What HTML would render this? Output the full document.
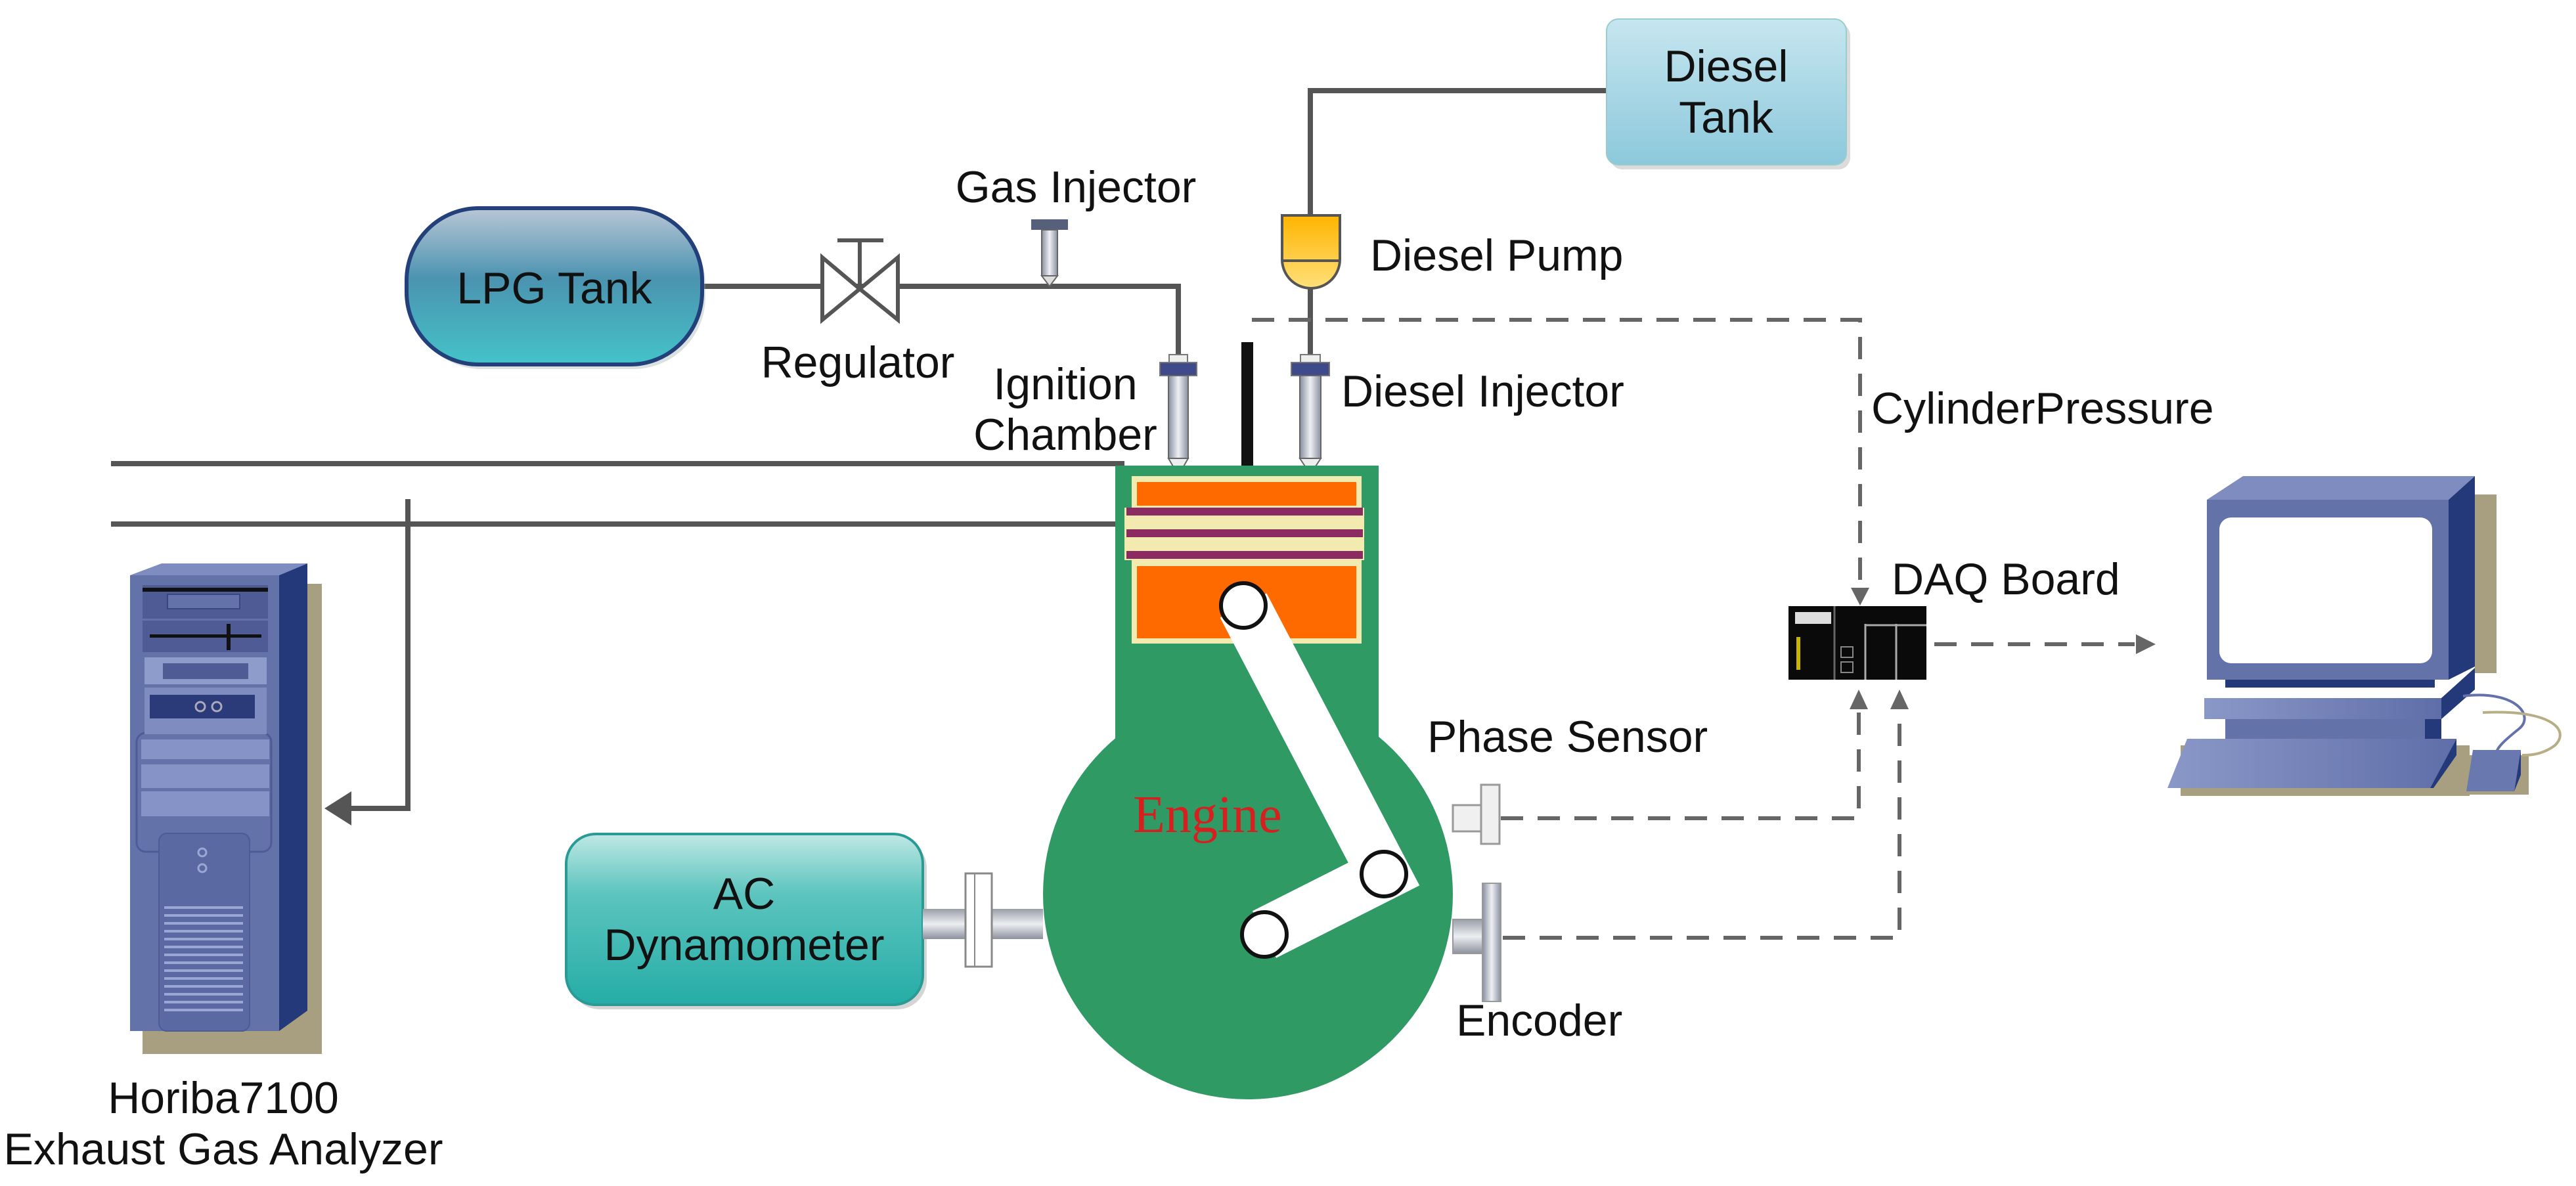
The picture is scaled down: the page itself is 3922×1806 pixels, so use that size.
<!DOCTYPE html>
<html><head><meta charset="utf-8"><style>
html,body{margin:0;padding:0;background:#fff}
svg{display:block}
text{font-family:"Liberation Sans",Arial,sans-serif;fill:#111}
</style></head><body>
<svg width="3922" height="1806" viewBox="0 0 3922 1806" xmlns="http://www.w3.org/2000/svg">
<defs>
<linearGradient id="lpg" x1="0" y1="0" x2="0" y2="1"><stop offset="0" stop-color="#b9c6d6"/><stop offset="0.45" stop-color="#4b93b0"/><stop offset="1" stop-color="#44c3c9"/></linearGradient>
<linearGradient id="dyn" x1="0" y1="0" x2="0" y2="1"><stop offset="0" stop-color="#bfe8e4"/><stop offset="0.35" stop-color="#5cc4be"/><stop offset="1" stop-color="#25aca6"/></linearGradient>
<linearGradient id="dt" x1="0" y1="0" x2="0" y2="1"><stop offset="0" stop-color="#c6e6ef"/><stop offset="1" stop-color="#8cc8dc"/></linearGradient>
<linearGradient id="inj" x1="0" y1="0" x2="1" y2="0"><stop offset="0" stop-color="#888ea0"/><stop offset="0.5" stop-color="#eef0f4"/><stop offset="1" stop-color="#8a90a2"/></linearGradient>
<linearGradient id="shaft" x1="0" y1="0" x2="0" y2="1"><stop offset="0" stop-color="#9a9ea8"/><stop offset="0.5" stop-color="#eceef2"/><stop offset="1" stop-color="#8d919c"/></linearGradient>
<linearGradient id="pump" x1="0" y1="0" x2="0" y2="1"><stop offset="0" stop-color="#ffb400"/><stop offset="1" stop-color="#ffe07a"/></linearGradient>
<linearGradient id="blu" x1="0" y1="0" x2="1" y2="0"><stop offset="0" stop-color="#8a98c8"/><stop offset="1" stop-color="#5f6ea8"/></linearGradient>
</defs>

<!-- pipes -->
<g stroke="#555" stroke-width="8" fill="none">
<polyline points="1069,436 1794,436 1794,545"/>
<polyline points="2446,138 1995,138 1995,330"/>
<line x1="1995" y1="437" x2="1995" y2="545"/>
<line x1="169" y1="706" x2="1712" y2="706"/>
<line x1="169" y1="798" x2="1712" y2="798"/>
<polyline points="621,760 621,1231 530,1231"/>
</g>
<polygon points="494,1231 535,1205 535,1257" fill="#555"/>

<!-- dashed signals -->
<g stroke="#666" stroke-width="6" fill="none" stroke-dasharray="34,22">
<polyline points="1906,487 2832,487 2832,905"/>
<polyline points="2285,1246 2830,1246 2830,1075"/>
<polyline points="2288,1428 2892,1428 2892,1075"/>
<line x1="2945" y1="981" x2="3250" y2="981"/>
</g>
<g fill="#666">
<polygon points="2832,922 2818,895 2846,895"/>
<polygon points="2830,1050 2816,1080 2844,1080"/>
<polygon points="2892,1050 2878,1080 2906,1080"/>
<polygon points="3282,981 3252,966 3252,996"/>
</g>

<!-- LPG tank -->
<rect x="624" y="324" width="450" height="238" rx="110" fill="#9aa" opacity="0.35"/>
<rect x="619" y="317" width="450" height="238" rx="110" fill="url(#lpg)" stroke="#23407a" stroke-width="6"/>
<text x="844" y="462" font-size="68" text-anchor="middle">LPG Tank</text>

<!-- regulator -->
<g stroke="#555" stroke-width="6" fill="#fff">
<polygon points="1252,392 1309,440 1252,487"/>
<polygon points="1367,392 1309,440 1367,487"/>
<line x1="1309" y1="366" x2="1309" y2="440"/>
<line x1="1275" y1="366" x2="1345" y2="366"/>
</g>
<text x="1306" y="575" font-size="68" text-anchor="middle">Regulator</text>

<!-- gas injector -->
<rect x="1570" y="334" width="56" height="16" fill="#56607a"/>
<rect x="1586" y="350" width="24" height="70" fill="url(#inj)" stroke="#666" stroke-width="2"/>
<polygon points="1586,420 1610,420 1598,436" fill="#ddd" stroke="#666" stroke-width="2"/>
<text x="1638" y="308" font-size="68" text-anchor="middle">Gas Injector</text>

<!-- ignition injector -->
<rect x="1780" y="540" width="28" height="14" fill="#eee" stroke="#777" stroke-width="2"/>
<rect x="1766" y="552" width="56" height="20" fill="#3f4a8a" stroke="#777" stroke-width="2"/>
<rect x="1779" y="572" width="30" height="126" fill="url(#inj)" stroke="#666" stroke-width="2"/>
<polygon points="1779,698 1809,698 1794,724" fill="#eee" stroke="#666" stroke-width="2"/>
<text x="1622" y="608" font-size="68" text-anchor="middle">Ignition</text>
<text x="1622" y="685" font-size="68" text-anchor="middle">Chamber</text>

<!-- pressure rod -->
<rect x="1890" y="521" width="18" height="202" fill="#111"/>

<!-- diesel injector -->
<rect x="1980" y="540" width="30" height="14" fill="#eee" stroke="#777" stroke-width="2"/>
<rect x="1966" y="552" width="58" height="20" fill="#3f4a8a" stroke="#777" stroke-width="2"/>
<rect x="1979" y="572" width="32" height="126" fill="url(#inj)" stroke="#666" stroke-width="2"/>
<polygon points="1979,698 2011,698 1995,722" fill="#eee" stroke="#666" stroke-width="2"/>
<text x="2042" y="619" font-size="68">Diesel Injector</text>

<!-- diesel pump -->
<path d="M1952,328 H2040 V395 A44,44 0 0 1 1952,395 Z" fill="url(#pump)" stroke="#555" stroke-width="4"/>
<line x1="1952" y1="397" x2="2040" y2="397" stroke="#555" stroke-width="4"/>
<text x="2086" y="412" font-size="68">Diesel Pump</text>

<!-- diesel tank -->
<rect x="2452" y="36" width="365" height="222" rx="18" fill="#999" opacity="0.35"/>
<rect x="2446" y="29" width="365" height="222" rx="18" fill="url(#dt)" stroke="#9cc" stroke-width="2"/>
<text x="2628" y="124" font-size="68" text-anchor="middle">Diesel</text>
<text x="2628" y="202" font-size="68" text-anchor="middle">Tank</text>

<!-- engine -->
<circle cx="1900" cy="1362" r="312" fill="#2f9a64"/>
<rect x="1698" y="709" width="401" height="480" fill="#2f9a64"/>
<rect x="1723" y="725" width="350" height="255" fill="#f3eab0"/>
<rect x="1731" y="734" width="334" height="36" fill="#ff6a00"/>
<rect x="1712" y="773" width="365" height="80" fill="#f3eab0"/>
<rect x="1715" y="773" width="360" height="12" fill="#8c2a62"/>
<rect x="1715" y="806" width="360" height="12" fill="#8c2a62"/>
<rect x="1715" y="839" width="360" height="12" fill="#8c2a62"/>
<rect x="1731" y="862" width="334" height="110" fill="#ff6a00"/>
<g stroke="#fff" stroke-width="80" stroke-linecap="butt" fill="none">
<polyline points="1893,922 2107,1331 1925,1423" stroke-linejoin="miter"/>
</g>
<g fill="#fff" stroke="#111" stroke-width="6">
<circle cx="1893" cy="922" r="34"/>
<circle cx="2107" cy="1331" r="34"/>
<circle cx="1925" cy="1423" r="34"/>
</g>
<text x="1725" y="1267" font-size="80" style="font-family:'Liberation Serif',serif;fill:#d62020">Engine</text>

<!-- dynamometer -->
<rect x="868" y="1277" width="543" height="260" rx="45" fill="#888" opacity="0.35"/>
<rect x="862" y="1270" width="543" height="260" rx="45" fill="url(#dyn)" stroke="#2a9a95" stroke-width="4"/>
<text x="1133" y="1384" font-size="68" text-anchor="middle">AC</text>
<text x="1133" y="1462" font-size="68" text-anchor="middle">Dynamometer</text>
<rect x="1405" y="1384" width="183" height="46" fill="url(#shaft)"/>
<rect x="1470" y="1330" width="40" height="142" fill="#fff" stroke="#888" stroke-width="3"/>
<line x1="1484" y1="1330" x2="1484" y2="1472" stroke="#888" stroke-width="2"/>

<!-- phase sensor -->
<rect x="2212" y="1226" width="45" height="40" fill="#f0f0f0" stroke="#999" stroke-width="3"/>
<rect x="2255" y="1195" width="28" height="90" fill="#f0f0f0" stroke="#999" stroke-width="3"/>
<text x="2173" y="1145" font-size="68">Phase Sensor</text>

<!-- encoder -->
<rect x="2212" y="1400" width="48" height="52" fill="url(#shaft)" stroke="#999" stroke-width="2"/>
<rect x="2257" y="1345" width="28" height="180" fill="url(#inj)" stroke="#999" stroke-width="2"/>
<text x="2217" y="1577" font-size="68">Encoder</text>

<!-- DAQ -->
<rect x="2723" y="923" width="210" height="112" fill="#0a0a0a"/>
<rect x="2733" y="932" width="55" height="18" fill="#ddd"/>
<rect x="2735" y="970" width="6" height="50" fill="#c9b400"/>
<line x1="2793" y1="923" x2="2793" y2="1035" stroke="#666" stroke-width="3"/>
<line x1="2840" y1="950" x2="2840" y2="1035" stroke="#aaa" stroke-width="3"/>
<line x1="2887" y1="950" x2="2887" y2="1035" stroke="#aaa" stroke-width="3"/>
<line x1="2840" y1="952" x2="2933" y2="952" stroke="#aaa" stroke-width="3"/>
<rect x="2803" y="985" width="18" height="16" fill="none" stroke="#888" stroke-width="2"/>
<rect x="2803" y="1008" width="18" height="16" fill="none" stroke="#888" stroke-width="2"/>
<text x="2880" y="905" font-size="68">DAQ Board</text>
<text x="2849" y="645" font-size="68">CylinderPressure</text>

<!-- computer -->
<rect x="3768" y="753" width="33" height="272" fill="#a89f80"/>
<polygon points="3320,1135 3760,1135 3760,1212 3320,1212" fill="#a89f80"/>
<rect x="3760" y="1150" width="90" height="60" fill="#a89f80"/>
<polygon points="3360,761 3415,725 3768,725 3728,761" fill="#7f8cc0"/>
<polygon points="3728,761 3768,725 3768,1015 3728,1035" fill="#23397a"/>
<rect x="3360" y="761" width="368" height="274" fill="#6472aa"/>
<rect x="3379" y="788" width="324" height="222" rx="18" fill="#fff"/>
<rect x="3388" y="1035" width="319" height="12" fill="#23397a"/>
<rect x="3356" y="1063" width="361" height="32" fill="url(#blu)"/>
<polygon points="3717,1063 3768,1017 3768,1050 3717,1095" fill="#23397a"/>
<rect x="3388" y="1095" width="304" height="30" fill="#6472aa"/>
<polygon points="3692,1095 3717,1095 3717,1125 3692,1125" fill="#23397a"/>
<path d="M3750,1060 C3830,1050 3860,1090 3835,1110 C3810,1130 3800,1140 3800,1150" stroke="#6472aa" stroke-width="4" fill="none"/>
<path d="M3780,1085 C3880,1080 3915,1110 3890,1135 C3870,1150 3850,1150 3840,1150" stroke="#b8ae86" stroke-width="4" fill="none"/>
<polygon points="3330,1125 3740,1125 3700,1200 3300,1200" fill="url(#blu)"/>
<polygon points="3740,1125 3740,1150 3705,1200 3700,1200" fill="#23397a"/>
<polygon points="3765,1142 3838,1142 3828,1205 3755,1205" fill="#6a78b0"/>
<polygon points="3838,1142 3838,1180 3828,1205" fill="#23397a"/>

<!-- Horiba tower -->
<rect x="217" y="889" width="273" height="716" fill="#a89f80"/>
<polygon points="198,876 246,858 468,858 425,876" fill="#7f8cc0"/>
<polygon points="425,876 468,858 468,1539 425,1570" fill="#23397a"/>
<rect x="198" y="876" width="227" height="694" fill="#6472aa"/>
<rect x="208" y="1116" width="205" height="181" rx="14" fill="#6472aa" stroke="#4e5b95" stroke-width="3"/>
<rect x="217" y="891" width="191" height="51" fill="#4e5b95"/>
<rect x="217" y="895" width="191" height="6" fill="#111"/>
<rect x="255" y="905" width="110" height="22" fill="#6472aa" stroke="#3a467f" stroke-width="2"/>
<rect x="217" y="945" width="191" height="48" fill="#4e5b95"/>
<rect x="228" y="966" width="170" height="5" fill="#111"/>
<rect x="345" y="950" width="6" height="40" fill="#111"/>
<rect x="220" y="1001" width="186" height="41" fill="#8e9ccc"/>
<rect x="248" y="1010" width="130" height="24" fill="#4e5b95"/>
<rect x="220" y="1047" width="186" height="71" fill="#7f8cc0"/>
<rect x="228" y="1058" width="160" height="36" fill="#2b3a78"/>
<circle cx="305" cy="1076" r="7" fill="none" stroke="#aab" stroke-width="3"/>
<circle cx="330" cy="1076" r="7" fill="none" stroke="#aab" stroke-width="3"/>
<rect x="215" y="1126" width="195" height="30" fill="#8593c6"/>
<rect x="215" y="1164" width="195" height="36" fill="#8593c6"/>
<rect x="215" y="1205" width="195" height="38" fill="#8593c6"/>
<rect x="242" y="1269" width="138" height="301" rx="12" fill="#5b69a3" stroke="#4e5b95" stroke-width="2"/>
<circle cx="308" cy="1298" r="6" fill="none" stroke="#9aa6d4" stroke-width="3"/>
<circle cx="308" cy="1322" r="6" fill="none" stroke="#9aa6d4" stroke-width="3"/>
<g stroke="#9aa6d4" stroke-width="4">
<line x1="250" y1="1382" x2="370" y2="1382"/><line x1="250" y1="1394" x2="370" y2="1394"/><line x1="250" y1="1406" x2="370" y2="1406"/><line x1="250" y1="1418" x2="370" y2="1418"/><line x1="250" y1="1430" x2="370" y2="1430"/><line x1="250" y1="1442" x2="370" y2="1442"/><line x1="250" y1="1454" x2="370" y2="1454"/><line x1="250" y1="1466" x2="370" y2="1466"/><line x1="250" y1="1478" x2="370" y2="1478"/><line x1="250" y1="1490" x2="370" y2="1490"/><line x1="250" y1="1502" x2="370" y2="1502"/><line x1="250" y1="1514" x2="370" y2="1514"/><line x1="250" y1="1526" x2="370" y2="1526"/><line x1="250" y1="1538" x2="370" y2="1538"/>
</g>
<text x="340" y="1695" font-size="68" text-anchor="middle">Horiba7100</text>
<text x="340" y="1773" font-size="68" text-anchor="middle">Exhaust Gas Analyzer</text>
</svg>
</body></html>
